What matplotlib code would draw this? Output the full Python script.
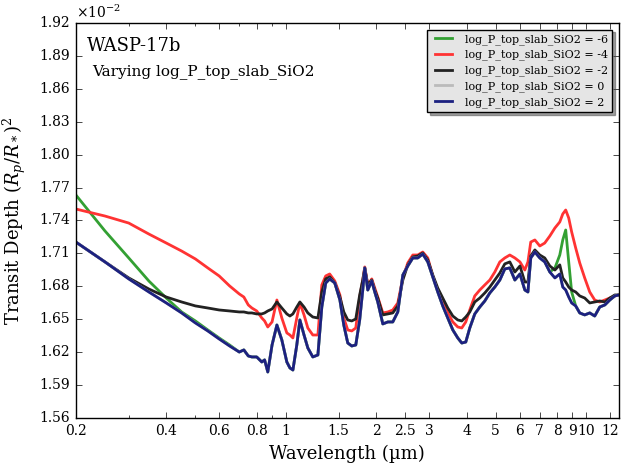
import matplotlib
matplotlib.use("Agg")
import matplotlib.pyplot as plt
import matplotlib.ticker as ticker
import numpy as np

plt.style.use("classic")
plt.rcParams["font.family"] = "DejaVu Serif"
plt.rcParams["mathtext.fontset"] = "dejavuserif"

# wavelength grid (um)
wavelength = [
    0.200, 0.250, 0.300, 0.350, 0.400, 0.450, 0.500, 0.550, 0.600, 0.650, 0.700,
    0.725, 0.750, 0.771, 0.800, 0.832, 0.850, 0.871, 0.900, 0.934, 0.970,
    1.008, 1.032, 1.056, 1.088, 1.114, 1.150, 1.184, 1.230, 1.279, 1.318,
    1.358, 1.400, 1.456, 1.514, 1.560, 1.608, 1.658, 1.710, 1.762, 1.804,
    1.832, 1.875, 1.933, 1.978, 2.024, 2.104, 2.187, 2.271, 2.360, 2.453,
    2.548, 2.648, 2.750, 2.858, 2.970, 3.086, 3.206, 3.331, 3.462, 3.598,
    3.738, 3.854, 3.974, 4.098, 4.258, 4.425, 4.598, 4.778, 4.965, 5.160,
    5.36, 5.57, 5.79, 6.02, 6.25, 6.40, 6.54, 6.75, 7.01, 7.28,
    7.57, 7.87, 8.17, 8.36, 8.55, 8.75, 8.95, 9.23, 9.52, 9.89,
    10.28, 10.68, 11.10, 11.54, 11.99, 12.46, 12.85,
]

# transit depth in units of 1e-2
depth_m6 = [
    1.7632, 1.7304, 1.7058, 1.6848, 1.6693, 1.6566, 1.6484, 1.6402, 1.6329, 1.6265, 1.6201,
    1.6220, 1.6165, 1.6156, 1.6156, 1.6110, 1.6129, 1.6019, 1.6265, 1.6447, 1.6311,
    1.6110, 1.6056, 1.6037, 1.6265, 1.6493, 1.6356, 1.6238, 1.6156, 1.6174, 1.6611,
    1.6830, 1.6867, 1.6830, 1.6675, 1.6447, 1.6283, 1.6256, 1.6265, 1.6493, 1.6766,
    1.6967, 1.6766, 1.6848, 1.6748, 1.6657, 1.6457, 1.6475, 1.6475, 1.6566, 1.6903,
    1.6985, 1.7058, 1.7058, 1.7094, 1.7022, 1.6885, 1.6748, 1.6621, 1.6511, 1.6402,
    1.6329, 1.6283, 1.6292, 1.6420, 1.6548, 1.6611, 1.6666, 1.6739, 1.6793, 1.6857,
    1.6958, 1.6967, 1.6857, 1.6912, 1.6766, 1.6748, 1.7058, 1.7112, 1.7058, 1.7022,
    1.6930, 1.6966, 1.7085, 1.7222, 1.7313, 1.7022, 1.6748, 1.6621, 1.6557, 1.6539,
    1.6557, 1.6529, 1.6611, 1.6630, 1.6675, 1.6712, 1.6721,
]
depth_m4 = [
    1.7504, 1.7440, 1.7376, 1.7276, 1.7194, 1.7121, 1.7049, 1.6967, 1.6894, 1.6803, 1.6730,
    1.6702, 1.6630, 1.6602, 1.6575, 1.6511, 1.6484, 1.6429, 1.6475, 1.6675, 1.6511,
    1.6375, 1.6356, 1.6329, 1.6511, 1.6648, 1.6539, 1.6420, 1.6356, 1.6356, 1.6812,
    1.6894, 1.6912, 1.6848, 1.6721, 1.6511, 1.6402, 1.6393, 1.6420, 1.6702, 1.6857,
    1.6976, 1.6812, 1.6867, 1.6784, 1.6702, 1.6557, 1.6566, 1.6584, 1.6648, 1.6876,
    1.7013, 1.7085, 1.7085, 1.7112, 1.7058, 1.6894, 1.6766, 1.6648, 1.6557, 1.6475,
    1.6429, 1.6420, 1.6475, 1.6584, 1.6712, 1.6766, 1.6812, 1.6857, 1.6930, 1.7022,
    1.7058, 1.7085, 1.7058, 1.7022, 1.6948, 1.7022, 1.7203, 1.7222, 1.7167, 1.7194,
    1.7258, 1.7331, 1.7386, 1.7459, 1.7495, 1.7422, 1.7295, 1.7149, 1.7013, 1.6876,
    1.6748, 1.6675, 1.6657, 1.6675, 1.6693, 1.6712, 1.6721,
]
depth_m2 = [
    1.7203, 1.7022, 1.6876, 1.6775, 1.6702, 1.6657, 1.6621, 1.6602, 1.6584, 1.6575, 1.6566,
    1.6566, 1.6557, 1.6557, 1.6548, 1.6548, 1.6557, 1.6575, 1.6593, 1.6657, 1.6602,
    1.6548, 1.6529, 1.6548, 1.6611, 1.6657, 1.6611, 1.6557, 1.6520, 1.6511, 1.6748,
    1.6867, 1.6885, 1.6830, 1.6702, 1.6566, 1.6493, 1.6484, 1.6502, 1.6721, 1.6857,
    1.6967, 1.6812, 1.6857, 1.6766, 1.6693, 1.6539, 1.6548, 1.6557, 1.6621, 1.6857,
    1.6995, 1.7067, 1.7076, 1.7103, 1.7040, 1.6903, 1.6784, 1.6693, 1.6602, 1.6529,
    1.6493, 1.6484, 1.6520, 1.6566, 1.6657, 1.6693, 1.6739, 1.6793, 1.6857, 1.6921,
    1.7004, 1.7022, 1.6930, 1.6985, 1.6839, 1.6839, 1.7076, 1.7131, 1.7085, 1.7058,
    1.6985, 1.6948, 1.6995, 1.6876, 1.6839, 1.6793, 1.6766, 1.6748, 1.6712, 1.6693,
    1.6648, 1.6657, 1.6666, 1.6657, 1.6693, 1.6721, 1.6721,
]
depth_p2 = [
    1.7203, 1.7022, 1.6867, 1.6748, 1.6648, 1.6557, 1.6466, 1.6393, 1.6320, 1.6256, 1.6201,
    1.6220, 1.6165, 1.6156, 1.6156, 1.6110, 1.6129, 1.6019, 1.6265, 1.6447, 1.6311,
    1.6110, 1.6056, 1.6037, 1.6265, 1.6493, 1.6356, 1.6238, 1.6156, 1.6174, 1.6611,
    1.6830, 1.6867, 1.6830, 1.6675, 1.6447, 1.6283, 1.6256, 1.6265, 1.6493, 1.6766,
    1.6967, 1.6766, 1.6848, 1.6748, 1.6657, 1.6457, 1.6475, 1.6475, 1.6566, 1.6903,
    1.6985, 1.7058, 1.7058, 1.7094, 1.7022, 1.6885, 1.6748, 1.6621, 1.6511, 1.6402,
    1.6329, 1.6283, 1.6292, 1.6420, 1.6548, 1.6611, 1.6666, 1.6739, 1.6793, 1.6857,
    1.6958, 1.6967, 1.6857, 1.6912, 1.6766, 1.6748, 1.7058, 1.7112, 1.7058, 1.7022,
    1.6930, 1.6876, 1.6912, 1.6793, 1.6766, 1.6702, 1.6648, 1.6621, 1.6557, 1.6539,
    1.6557, 1.6529, 1.6611, 1.6630, 1.6675, 1.6712, 1.6721,
]
# log_P = 0 lies right under the log_P = 2 curve
depth_0 = list(depth_p2)

labels = ["-6", "-4", "-2", "0", "2"]
series = [depth_m6, depth_m4, depth_m2, depth_0, depth_p2]
colors = ["#33a033", "#ff3333", "#222222", "#bbbbbb", "#1c2180"]

xticks = [0.2, 0.4, 0.6, 0.8, 1, 1.5, 2, 2.5, 3, 4, 5, 6, 7, 8, 9, 10, 12]


def main():
    fig = plt.figure(figsize=(6.27, 4.67), dpi=100, facecolor="white")
    ax = fig.add_axes([0.121, 0.105, 0.866, 0.846])
    wl = np.array(wavelength)
    for lab, dep, col in zip(labels, series, colors):
        ax.plot(wl, np.array(dep) * 1e-2, color=col, lw=2,
                label=f"log_P_top_slab_SiO2 = {lab}")

    ax.set_xscale("log")
    ax.set_xlim(0.2, 12.85)
    ax.set_ylim(0.0156, 0.0192)
    ax.xaxis.set_major_locator(ticker.FixedLocator(xticks))
    ax.xaxis.set_major_formatter(ticker.FixedFormatter([f"{t:g}" for t in xticks]))
    ax.yaxis.set_major_locator(ticker.MultipleLocator(0.0003))
    ax.yaxis.set_major_formatter(ticker.FuncFormatter(lambda v, p: f"{v*100:.2f}"))
    ax.text(0.0, 1.005, r"$\times10^{-2}$", transform=ax.transAxes, fontsize=10,
            va="bottom", ha="left")
    ax.tick_params(labelsize=10)

    ax.set_xlabel("Wavelength (µm)", fontsize=13)
    ax.set_ylabel(r"Transit Depth $(R_p/R_*)^2$", fontsize=13, labelpad=8)

    ax.text(0.02, 0.965, "WASP-17b", transform=ax.transAxes, fontsize=13,
            va="top", ha="left")
    ax.text(0.03, 0.895, "Varying log_P_top_slab_SiO2", transform=ax.transAxes,
            fontsize=11, va="top", ha="left")

    leg = ax.legend(loc="upper right", fontsize=8, shadow=True, fancybox=False,
                    framealpha=1, handlelength=2.2, borderaxespad=0.6,
                    labelspacing=0.45)
    leg.get_frame().set_facecolor("#e5e5e5")
    leg.get_frame().set_edgecolor("black")

    fig.savefig("out.png", dpi=100, facecolor="white")


if __name__ == "__main__":
    main()
